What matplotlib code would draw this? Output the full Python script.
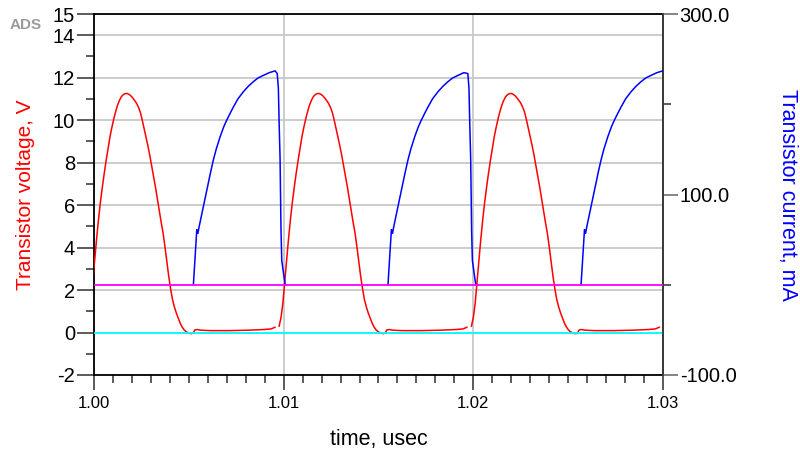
import numpy as np
import matplotlib
matplotlib.use("Agg")
import matplotlib.pyplot as plt
from matplotlib.ticker import MultipleLocator, FixedLocator

plt.rcParams['font.family'] = ['Liberation Sans', 'DejaVu Sans']
plt.rcParams['axes.unicode_minus'] = False

# ---------------------------------------------------------------------------
# Data (time in usec)
# ---------------------------------------------------------------------------

# one voltage pulse, time relative to start of rise (usec), volts
v_trel = [0.0, 0.0001, 0.0002, 0.0003, 0.0004, 0.0005, 0.0006, 0.0007,
          0.0008, 0.0009, 0.0010, 0.0011, 0.0012, 0.0013, 0.0014, 0.0015,
          0.0016, 0.0017, 0.0018, 0.0019, 0.0020, 0.0021, 0.0022, 0.0023,
          0.0024, 0.0025, 0.0026, 0.0027, 0.0028, 0.0029, 0.0030, 0.0031,
          0.0032, 0.0033, 0.0034, 0.0035, 0.0036, 0.0037, 0.0038, 0.0039,
          0.0040, 0.0041, 0.0042, 0.0043, 0.0044, 0.0045, 0.0046, 0.0047,
          0.0048, 0.0049, 0.0050, 0.0051, 0.0052, 0.0053, 0.0054, 0.0055,
          0.0056, 0.00565, 0.0057, 0.0058, 0.0060, 0.0065, 0.0075, 0.0085,
          0.0093, 0.0097, 0.0099]
v_shape = [0.30, 0.70, 1.40, 2.45, 3.45, 4.45, 5.35, 6.15,
           6.85, 7.50, 8.10, 8.65, 9.20, 9.65, 10.05, 10.40,
           10.70, 10.93, 11.10, 11.20, 11.25, 11.26, 11.22, 11.15,
           11.05, 10.93, 10.80, 10.62, 10.38, 10.02, 9.62, 9.22,
           8.80, 8.35, 7.85, 7.35, 6.85, 6.30, 5.75, 5.20,
           4.70, 4.05, 3.35, 2.65, 2.05, 1.55, 1.20, 0.92,
           0.68, 0.45, 0.27, 0.14, 0.05, 0.0, -0.04, -0.05,
           -0.02, 0.08, 0.13, 0.14, 0.11, 0.09, 0.09, 0.11,
           0.14, 0.17, 0.25]
v_starts = [0.99964, 1.00976, 1.0199]

# current pulse: rising part relative to start of rise (usec), mA
i_rise_trel = [0.0, 0.00018, 0.00024, 0.00030, 0.00040, 0.00050, 0.00060,
               0.00071, 0.00080, 0.00090, 0.00105, 0.00120, 0.00141, 0.00160,
               0.00176, 0.00195, 0.00211, 0.00235, 0.00264, 0.00290, 0.00316,
               0.00340, 0.00369, 0.00400, 0.00431]
i_rise = [0.0, 61.0, 57.0, 64.0, 74.0, 84.0, 94.0,
          105.0, 114.0, 124.0, 138.0, 150.0, 164.0, 175.0,
          182.5, 190.5, 197.0, 206.0, 214.0, 220.0, 225.0,
          229.0, 232.0, 235.0, 237.0]
# turn-off part relative to the moment of turn-off (usec), mA
i_fall_trel = [-0.00006, 0.0, 0.00004, 0.00009, 0.00014, 0.00018, 0.00027, 0.00036]
i_fall = [234.0, 218.0, 180.0, 140.0, 60.0, 27.0, 13.0, 0.0]
i_starts = [1.00524, 1.0155, 1.02568]
i_offs = [1.00972, 1.01977, None]

x_ticks = [1.00, 1.01, 1.02, 1.03]
v_ticks = [-2, 0, 2, 4, 6, 8, 10, 12, 14, 15]
i_ticks = [-100.0, 100.0, 300.0]


def build_voltage():
    t, y = [], []
    for s in v_starts:
        t.extend(s + np.array(v_trel))
        y.extend(v_shape)
        t.append(np.nan)
        y.append(np.nan)
    return np.array(t), np.array(y)


def build_current():
    t, y = [], []
    for s, off in zip(i_starts, i_offs):
        tr = s + np.array(i_rise_trel)
        yr = np.array(i_rise)
        if off is not None:
            keep = tr < off + i_fall_trel[0]
            t.extend(tr[keep])
            y.extend(yr[keep])
            t.extend(off + np.array(i_fall_trel))
            y.extend(i_fall)
        else:
            t.extend(tr)
            y.extend(yr)
        t.append(np.nan)
        y.append(np.nan)
    return np.array(t), np.array(y)


t_v, volt = build_voltage()
t_i, curr = build_current()

# ---------------------------------------------------------------------------
# Plot
# ---------------------------------------------------------------------------

fig = plt.figure(figsize=(8.0, 4.55), dpi=100)
ax = fig.add_axes([94 / 800, 1 - 375 / 455, (663 - 94) / 800, (375 - 14) / 455])
ax2 = ax.twinx()

ax.set_xlim(1.00, 1.03)
ax.set_ylim(-2, 15)
ax2.set_ylim(-100, 300)

ax.set_xticks(x_ticks)
ax.set_xticklabels([f'{x:.2f}' for x in x_ticks])
ax.xaxis.set_minor_locator(MultipleLocator(0.001))
ax.set_yticks(v_ticks)
ax.yaxis.set_minor_locator(FixedLocator([-1, 1, 3, 5, 7, 9, 11, 13]))
ax2.set_yticks(i_ticks)
ax2.set_yticklabels([f'{v:.1f}' for v in i_ticks])
ax2.yaxis.set_minor_locator(FixedLocator([0, 200]))

ax.grid(True, which='major', color='#c8c8c8', linewidth=1.3)
ax.set_axisbelow(True)

ax.tick_params(axis='y', which='major', direction='out', length=12.5,
               width=1.2, color='#404040', labelsize=14.5, pad=1)
ax.tick_params(axis='y', which='minor', direction='out', length=6,
               width=1.2, color='#404040')
ax.tick_params(axis='x', which='major', direction='out', length=11,
               width=1.2, color='#404040', labelsize=12, pad=4)
ax.tick_params(axis='x', which='minor', direction='out', length=6,
               width=1.2, color='#404040')
ax2.tick_params(axis='y', which='major', direction='out', length=11,
                width=1.2, color='#707070', labelsize=14.5, pad=1)
ax2.tick_params(axis='y', which='minor', direction='out', length=6,
                width=1.2, color='#404040')

for sp in ax.spines.values():
    sp.set_color('black')
    sp.set_linewidth(1.3)
for sp in ax2.spines.values():
    sp.set_visible(False)
ax2.spines['right'].set_visible(True)
ax2.spines['right'].set_color('#404040')
ax2.spines['right'].set_linewidth(1.3)

ax.plot(t_v, volt, color='#ff0000', linewidth=1.1, zorder=3)
ax2.plot(t_i, curr, color='#0000ff', linewidth=1.1, zorder=3)
ax2.axhline(0, color='#ff00ff', linewidth=1.3, zorder=4)
ax.axhline(0, color='#00ffff', linewidth=1.3, zorder=4)

ax.set_xlabel('time, usec', fontsize=15.5, labelpad=13)
ax.set_ylabel('Transistor voltage, V', color='#ff0000', fontsize=15, labelpad=13)
ax2.set_ylabel('Transistor current, mA', color='#0000ff', fontsize=15.5,
               rotation=270, labelpad=44)

fig.text(10 / 800, 1 - 25 / 455, 'ADS', fontsize=11, color='#9a9a9a',
         fontweight='bold', va='center', ha='left')

fig.savefig('out.png', dpi=100)
